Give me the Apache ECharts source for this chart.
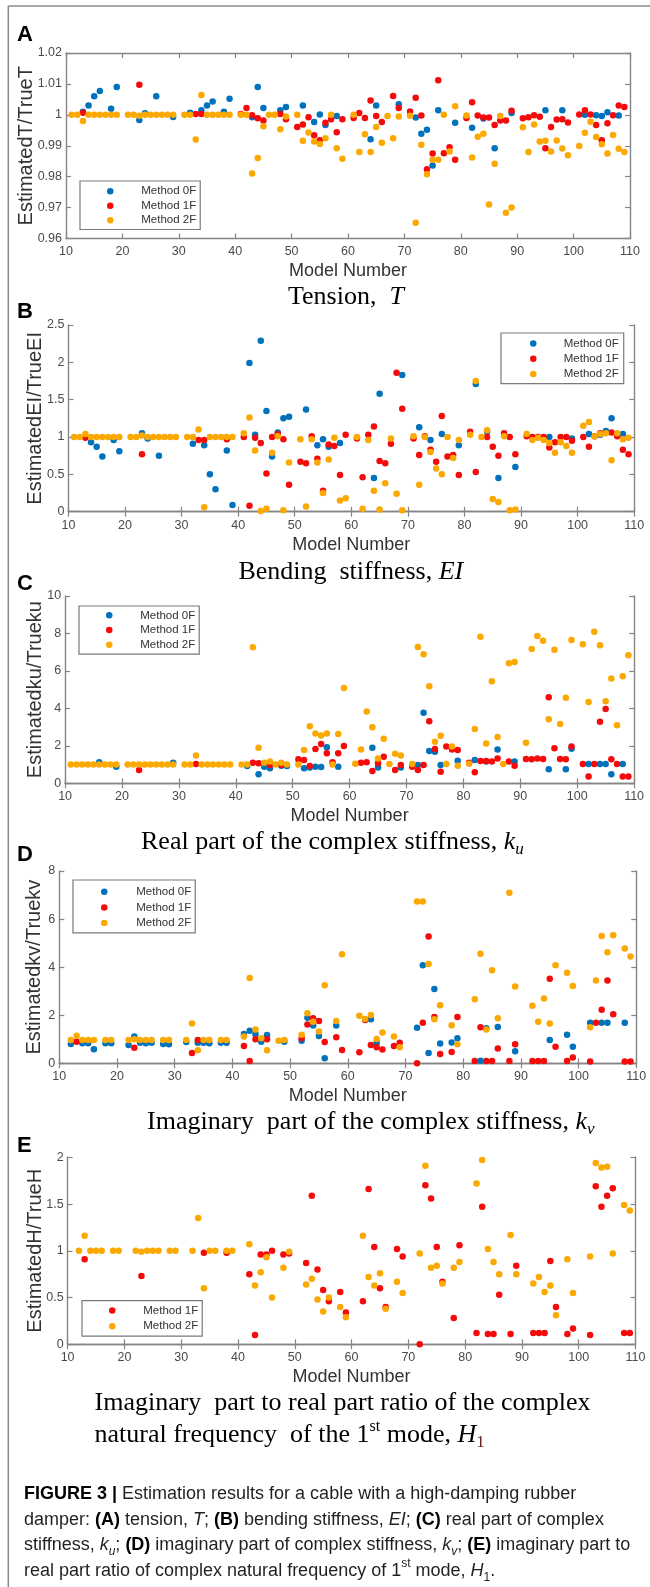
<!DOCTYPE html>
<html><head><meta charset="utf-8">
<script src="https://cdn.jsdelivr.net/npm/echarts@6/dist/echarts.min.js"></script>
<style>html,body{margin:0;padding:0;background:#fff}#c{width:650px;height:1587px}</style>
</head><body><div id="c"></div>
<script>
// ---------- DATA: [model number, estimated/true ratio] ----------
const modelAxis = {min: 10, max: 110, step: 10};
const methods = ['Method 0F', 'Method 1F', 'Method 2F'];

// Panel A: Tension
const A_0F = [[13,1.001],[14,1.003],[15,1.006],[16,1.0077],[18,1.002],[19,1.009],[23,0.9983],[24,1.0005],[26,1.006],[29,0.9993],[32,1.0007],[34,1.0015],[35,1.003],[36,1.0043],[38,1.001],[39,1.0052],[43,0.9992],[44,1.009],[45,1.0022],[48,1.0015],[49,1.0025],[52,1.003],[54,0.9977],[55,1.0001],[56,0.9967],[58,0.9996],[64,0.9921],[65,1.003],[69,1.0034],[72,0.9991],[73,0.9939],[74,0.9952],[75,0.9836],[76,1.0015],[79,0.9974],[82,0.9958],[84,0.9988],[86,0.9892],[89,1.0006],[95,1.0015],[98,1.0015],[102,1.0],[104,0.9999],[105,0.9996],[106,1.0008],[108,0.9998]];
const A_1F = [[13,1.0007],[23,1.0097],[33,1.0003],[34,1.0003],[41,1.0003],[42,1.0022],[43,0.9999],[44,0.9989],[45,0.9982],[48,1.0003],[49,0.9986],[51,0.9961],[52,0.9969],[53,0.9992],[54,0.9934],[55,0.9918],[56,0.9974],[57,0.9986],[58,0.9944],[59,0.9986],[61,0.999],[62,1.0006],[63,0.999],[64,1.0046],[65,0.9996],[66,0.9977],[68,1.0061],[69,1.0022],[71,1.0011],[72,1.0055],[73,0.9998],[74,0.9824],[75,0.9875],[76,1.0112],[77,0.9876],[78,0.9895],[79,0.9855],[81,0.999],[82,1.0041],[83,0.9998],[84,0.9991],[85,0.9991],[86,0.9967],[87,0.9982],[88,0.9982],[89,1.0013],[91,0.9989],[92,0.9992],[93,0.9999],[94,0.9994],[95,0.9892],[96,0.9961],[97,0.9985],[98,0.9986],[99,0.9975],[101,1.0001],[102,1.0015],[103,1.0001],[104,0.9967],[105,0.9918],[106,0.9973],[107,0.9999],[108,1.003],[109,1.0025]];
const A_2F = [[11,1],[12,1],[13,0.998],[14,1],[15,1],[16,1],[17,1],[18,1],[19,1],[21,1],[22,1],[23,0.9997],[24,1],[25,1],[26,1],[27,1],[28,1],[29,1],[31,1],[32,1],[33,0.992],[34,1.0064],[35,1],[36,1],[37,1],[38,1],[39,1],[41,1],[42,1],[43,0.981],[44,0.986],[45,0.9963],[46,1],[47,1],[48,0.9953],[49,0.9995],[51,1],[52,0.9916],[53,0.9943],[54,0.9914],[55,0.9906],[56,0.9924],[57,1],[58,0.9892],[59,0.9858],[61,1],[62,0.988],[63,0.9937],[64,0.988],[65,0.9961],[66,0.991],[67,0.9996],[68,0.9924],[69,0.9995],[71,0.9997],[72,0.9651],[73,0.9903],[74,0.9808],[75,0.9855],[76,0.9855],[77,1],[78,0.9881],[79,1.0028],[81,0.9998],[82,0.9862],[83,0.9929],[84,0.9939],[85,0.971],[86,0.9842],[87,0.9996],[88,0.9683],[89,0.97],[91,0.996],[92,0.988],[93,0.9969],[94,0.9914],[95,0.9916],[96,0.9881],[97,0.9917],[98,0.9891],[99,0.9869],[101,0.9899],[102,0.9942],[103,0.9978],[104,0.9928],[105,0.9905],[106,0.9875],[107,0.9935],[108,0.989],[109,0.988]];

// Panel B: Bending stiffness
const B_0F = [[14,0.93],[15,0.87],[16,0.74],[18,0.96],[19,0.81],[23,1.05],[24,0.98],[26,0.75],[32,0.91],[34,0.89],[35,0.50],[36,0.30],[38,0.82],[39,0.09],[42,1.99],[43,1.03],[44,2.29],[45,1.35],[46,0.74],[47,1.06],[48,1.25],[49,1.27],[52,1.37],[54,0.89],[55,0.97],[56,0.87],[58,0.92],[64,0.45],[65,1.58],[69,1.83],[72,1.13],[74,0.96],[76,1.04],[79,0.89],[82,1.71],[84,1.07],[86,0.45],[89,0.60],[95,1.00],[99,0.98],[102,1.04],[104,1.03],[105,1.08],[106,1.25],[108,1.04]];
const B_1F = [[13,0.99],[23,0.77],[33,0.96],[34,0.96],[38,0.97],[41,1.00],[42,0.08],[43,0.99],[44,0.92],[45,0.51],[46,1.00],[47,1.04],[48,0.97],[49,0.36],[51,0.67],[52,0.65],[53,1.01],[54,0.71],[55,0.28],[56,0.90],[57,0.88],[58,0.49],[59,1.03],[61,0.98],[62,0.46],[63,1.03],[64,1.14],[65,0.68],[66,0.65],[67,0.91],[68,1.86],[69,1.38],[71,0.98],[72,0.76],[73,1.01],[74,0.83],[75,0.67],[76,1.28],[77,0.74],[78,0.76],[79,0.49],[81,1.07],[82,0.53],[84,1.00],[85,0.87],[86,0.75],[87,1.05],[88,1.00],[89,0.77],[91,1.01],[92,1.00],[93,1.00],[94,1.00],[95,0.86],[96,0.93],[97,1.00],[98,1.00],[99,0.95],[101,1.00],[102,0.87],[103,1.01],[104,1.05],[106,1.06],[107,1.01],[108,0.83],[109,0.77]];
const B_2F = [[11,1],[12,1],[13,1.04],[14,1],[15,1],[16,1],[17,1],[18,1],[19,1],[21,1],[22,1],[23,1.02],[24,1],[25,1],[26,1],[27,1],[28,1],[29,1],[31,1],[32,1],[33,1.10],[34,0.06],[35,1],[36,1],[37,1],[38,1],[39,1],[41,1.05],[42,1.26],[43,0.82],[44,0.01],[45,0.04],[46,0.79],[47,1.01],[48,0.02],[49,0.66],[51,0.97],[52,0.07],[53,0.97],[54,0.66],[55,0.25],[56,0.70],[57,0.99],[58,0.15],[59,0.18],[61,1.00],[62,0.04],[63,0.96],[64,0.28],[65,0.03],[66,0.38],[67,0.98],[68,0.24],[69,0.02],[71,1.01],[72,0.36],[73,1.00],[74,0.80],[75,0.58],[76,0.50],[77,1.00],[78,0.72],[79,0.96],[81,1.03],[82,1.75],[83,1.00],[84,1.09],[85,0.17],[86,0.13],[87,1.01],[88,0.02],[89,0.03],[91,1.04],[92,0.96],[93,0.99],[94,0.96],[95,0.92],[96,0.79],[97,0.93],[98,0.88],[99,0.79],[101,1.15],[102,1.20],[103,1.01],[104,1.04],[105,1.05],[106,0.69],[107,1.05],[108,0.97],[109,0.99]];

// Panel C: real part of complex stiffness k_u
const C_0F = [[16,1.12],[19,0.89],[29,1.10],[42,0.93],[44,0.48],[45,0.89],[46,0.80],[48,0.94],[49,0.93],[52,0.80],[53,0.84],[54,0.89],[55,0.87],[56,1.92],[58,0.89],[64,1.90],[65,0.84],[69,0.84],[72,0.98],[73,3.77],[74,1.73],[75,1.69],[76,0.98],[79,1.21],[82,1.25],[84,1.16],[86,1.81],[89,1.16],[95,0.75],[98,0.75],[99,1.85],[102,1.03],[104,1.03],[105,1.03],[106,0.48],[108,1.03]];
const C_1F = [[23,0.71],[33,1.03],[43,1.10],[44,1.07],[46,0.98],[48,0.98],[51,1.28],[52,1.25],[53,0.93],[54,1.83],[55,2.10],[56,1.60],[57,1.12],[58,1.60],[59,1.99],[62,1.10],[63,1.12],[64,0.66],[65,1.07],[66,1.42],[68,0.71],[69,0.98],[71,0.89],[72,0.71],[73,0.98],[74,3.31],[75,1.83],[76,0.62],[77,1.96],[78,1.81],[79,1.78],[81,1.10],[82,0.59],[83,1.19],[84,1.19],[85,1.16],[86,1.33],[88,1.16],[89,0.94],[91,1.30],[92,1.28],[93,1.33],[94,1.30],[95,4.59],[96,1.87],[97,1.30],[98,1.28],[99,1.96],[101,1.03],[102,0.36],[103,1.03],[104,3.29],[105,3.97],[106,1.28],[107,1.03],[108,0.36],[109,0.36]];
const C_2F = [[11,1],[12,1],[13,1],[14,1],[15,1],[16,1],[17,1],[18,1],[19,1],[21,1],[22,1],[23,1],[24,1],[25,1],[26,1],[27,1],[28,1],[29,1],[31,1],[32,1],[33,1.49],[34,1],[35,1],[36,1],[37,1],[38,1],[39,1],[41,1],[42,1],[43,7.26],[44,1.90],[45,1.10],[46,1.17],[47,1],[48,1.10],[49,1],[51,1],[52,1.78],[53,3.04],[54,2.66],[55,2.55],[56,2.66],[57,1],[58,2.63],[59,5.09],[61,1.05],[62,1.80],[63,3.83],[64,2.99],[65,1.33],[66,2.38],[67,1.03],[68,1.58],[69,1.49],[71,1.03],[72,7.28],[73,6.89],[74,5.18],[75,2.22],[76,2.54],[77,1.03],[78,1.96],[79,0.94],[81,1.05],[82,2.90],[83,7.83],[84,2.13],[85,5.45],[86,2.47],[87,1.03],[88,6.41],[89,6.48],[91,2.17],[92,7.17],[93,7.86],[94,7.61],[95,3.42],[96,7.13],[97,3.17],[98,4.57],[99,7.65],[101,7.42],[102,4.34],[103,8.09],[104,7.37],[105,4.38],[106,5.60],[107,3.10],[108,5.71],[109,6.83]];

// Panel D: imaginary part of complex stiffness k_v
const D_0F = [[12,0.80],[14,0.83],[15,0.83],[16,0.58],[18,0.83],[19,0.83],[22,0.76],[23,1.11],[24,0.86],[25,0.83],[26,0.86],[28,0.80],[29,0.79],[32,0.89],[34,0.86],[35,0.86],[36,0.83],[38,0.86],[39,0.86],[42,1.22],[43,1.35],[44,1.21],[45,0.90],[46,1.18],[49,0.90],[52,0.94],[53,1.90],[54,1.57],[55,1.14],[56,0.21],[58,1.57],[64,1.83],[65,0.86],[72,1.48],[73,4.08],[74,0.43],[75,3.09],[76,0.82],[78,0.87],[79,1.04],[83,0.11],[84,1.46],[86,1.51],[89,0.50],[95,0.97],[98,1.19],[99,0.69],[102,1.69],[104,1.69],[105,1.69],[108,1.69]];
const D_1F = [[13,0.90],[23,0.65],[33,0.43],[34,0.97],[42,0.72],[43,0.10],[44,1.00],[46,1.00],[52,1.04],[53,1.61],[54,1.87],[55,1.76],[56,0.89],[58,1.08],[59,0.55],[62,0.46],[63,1.80],[64,0.76],[65,0.67],[66,0.57],[68,0.72],[69,0.86],[72,0.00],[73,1.69],[74,5.27],[75,1.93],[76,0.39],[78,0.47],[79,1.93],[82,0.10],[83,1.50],[84,0.10],[85,0.10],[86,0.62],[88,0.10],[89,0.79],[92,0.10],[93,0.10],[94,0.10],[95,3.52],[96,0.69],[98,0.10],[99,0.24],[102,0.08],[103,1.69],[104,2.23],[105,3.44],[106,2.04],[108,0.08],[109,0.08]];
const D_2F = [[12,0.97],[13,1.15],[14,0.97],[15,0.97],[16,0.97],[18,0.97],[19,0.97],[22,0.97],[23,1.00],[24,0.97],[25,0.97],[26,0.97],[28,0.97],[29,0.97],[32,0.97],[33,1.66],[34,0.54],[35,0.97],[36,0.97],[38,0.97],[39,0.97],[42,1.11],[43,3.55],[44,1.41],[45,1.04],[46,0.54],[48,0.94],[49,0.97],[52,1.19],[53,2.08],[54,1.73],[55,1.32],[56,3.25],[58,1.76],[59,4.54],[62,1.98],[63,1.84],[64,2.01],[65,1.01],[66,1.28],[68,1.11],[69,0.67],[72,6.73],[73,6.73],[74,4.13],[75,1.83],[76,2.41],[78,1.58],[79,0.79],[82,2.66],[83,4.56],[84,1.41],[85,3.87],[86,1.87],[88,7.10],[89,3.20],[92,2.39],[93,1.73],[94,2.70],[95,1.66],[96,4.08],[98,3.77],[99,3.22],[102,1.50],[103,3.44],[104,5.30],[105,4.62],[106,5.33],[108,4.78],[109,4.44]];

// Panel E: imaginary-to-real ratio of complex natural frequency, 1st mode H1
const E_1F = [[13,0.91],[23,0.73],[34,0.98],[38,0.98],[42,0.75],[43,0.10],[44,0.96],[45,0.96],[46,1.00],[48,0.96],[49,0.97],[52,0.87],[53,1.59],[54,0.80],[55,0.58],[56,0.46],[58,0.56],[59,0.34],[62,0.46],[63,1.66],[64,1.04],[65,0.60],[66,0.40],[68,1.02],[69,0.94],[72,0.00],[73,1.70],[74,1.56],[75,1.04],[76,0.67],[78,0.28],[79,1.06],[82,0.12],[83,1.47],[84,0.11],[85,0.11],[86,0.53],[88,0.11],[89,0.84],[92,0.12],[93,0.12],[94,0.12],[95,0.89],[96,0.40],[98,0.11],[99,0.17],[102,0.10],[103,1.69],[104,1.47],[105,1.59],[106,1.67],[108,0.12],[109,0.12]];
const E_2F = [[12,1.00],[13,1.16],[14,1.00],[15,1.00],[16,1.00],[18,1.00],[19,1.00],[22,1.00],[23,0.99],[24,1.00],[25,1.00],[26,1.00],[28,1.00],[29,1.00],[32,1.00],[33,1.35],[34,0.60],[35,1.00],[36,1.00],[38,1.00],[39,1.00],[42,1.07],[43,0.63],[44,0.77],[45,0.93],[46,0.50],[48,0.82],[49,0.99],[52,0.64],[53,0.70],[54,0.48],[55,0.35],[56,0.50],[58,0.40],[59,0.29],[62,1.16],[63,0.72],[64,0.63],[65,0.76],[66,0.38],[68,0.67],[69,0.55],[72,0.97],[73,1.91],[74,0.82],[75,0.84],[76,0.65],[78,0.82],[79,0.88],[82,1.72],[83,1.97],[84,1.02],[85,0.88],[86,0.75],[88,1.17],[89,0.75],[92,0.65],[93,0.72],[94,0.56],[95,0.63],[96,0.31],[98,0.91],[99,0.55],[102,0.94],[103,1.94],[104,1.89],[105,1.90],[106,0.97],[108,1.49],[109,1.43]];

// y-axis ranges (min, max, step) and names
const yRanges = [[0.96,1.02,0.01],[0,2.5,0.5],[0,10,2],[0,8,2],[0,2,0.5]];
const yNames = ['EstimatedT/TrueT','EstimatedEI/TrueEI','Estimatedku/Trueku','Estimatedkv/Truekv','EstimatedH/TrueH'];

// ---------- LAYOUT / STYLE ----------
const colors = {'Method 0F':'#0072bd','Method 1F':'#f40a0a','Method 2F':'#fba800'};
const panels = [
  {grid:{left:66,top:53,width:564,height:185.5}, nameGap:29.5, series:{'Method 0F':A_0F,'Method 1F':A_1F,'Method 2F':A_2F},
   legend:{left:80,top:181,padding:[3,4,2,27],itemWidth:52,lh:14.5}},
  {grid:{left:68.4,top:325,width:565.8,height:186.7}, nameGap:23, series:{'Method 0F':B_0F,'Method 1F':B_1F,'Method 2F':B_2F},
   legend:{left:501,top:333,padding:[3,5,2,29],itemWidth:51,lh:15.2}},
  {grid:{left:65.1,top:596,width:569,height:187.3}, nameGap:19.5, series:{'Method 0F':C_0F,'Method 1F':C_1F,'Method 2F':C_2F},
   legend:{left:79,top:606,padding:[2,4,2,27],itemWidth:52,lh:14.7}},
  {grid:{left:59.3,top:871,width:577,height:192.3}, nameGap:14.5, series:{'Method 0F':D_0F,'Method 1F':D_1F,'Method 2F':D_2F},
   legend:{left:73,top:880,padding:[4,4,2,28],itemWidth:54,lh:15.6}},
  {grid:{left:67.6,top:1157.3,width:567.9,height:187}, nameGap:22, series:{'Method 1F':E_1F,'Method 2F':E_2F},
   legend:{left:82,top:1300.7,padding:[2,4,2,27],itemWidth:52,lh:15.7}}
];

const axisGray = '#858585';
const fmt = v => String(parseFloat(v.toFixed(2)));
const grids = [], xAxes = [], yAxes = [], series = [], legends = [];
panels.forEach((p, i) => {
  grids.push(Object.assign({containLabel:false}, p.grid));
  const [ymin, ymax, ystep] = yRanges[i];
  const line = {show:true, lineStyle:{color:axisGray, width:1.4}};
  const tick = {show:true, inside:true, length:5, lineStyle:{color:axisGray, width:1.2}};
  xAxes.push({type:'value', gridIndex:i, min:modelAxis.min, max:modelAxis.max, interval:modelAxis.step,
    position:'bottom', axisLine:line, axisTick:tick, splitLine:{show:false},
    axisLabel:{margin:7, fontSize:12.5, fontFamily:'Liberation Sans', color:'#4a4a4a'},
    name:'Model Number', nameLocation:'middle', nameGap:24, nameMoveOverlap:false,
    nameTextStyle:{fontSize:18, fontFamily:'Liberation Sans', color:'#333'}});
  yAxes.push({type:'value', gridIndex:i, min:ymin, max:ymax, interval:ystep, position:'left',
    axisLine:line, axisTick:tick, splitLine:{show:false},
    axisLabel:{margin:4, fontSize:12.5, fontFamily:'Liberation Sans', color:'#4a4a4a', formatter:fmt},
    name:yNames[i], nameLocation:'middle', nameGap:p.nameGap, nameRotate:90, nameMoveOverlap:false,
    nameTextStyle:{fontSize:20, fontFamily:'Liberation Sans', color:'#333'}});
  Object.keys(p.series).forEach((m) => {
    series.push({type:'scatter', name:m, xAxisIndex:i, yAxisIndex:i, data:p.series[m],
      symbol:'circle', symbolSize:6.5, clip:false, itemStyle:{color:colors[m], opacity:1},
      emphasis:{disabled:true}, z: 2 + methods.indexOf(m)});
  });
  legends.push({show:true, orient:'vertical', left:p.legend.left, top:p.legend.top,
    padding:p.legend.padding, itemGap:0, itemWidth:p.legend.itemWidth, itemHeight:6.5, icon:'circle',
    data:Object.keys(p.series), selectedMode:false, borderColor:'#7a7a7a', borderWidth:1.2,
    backgroundColor:'#fff',
    textStyle:{fontSize:11.5, fontFamily:'Liberation Sans', color:'#333', lineHeight:p.legend.lh}});
});
// mirrored top / right axes (ticks only) to close the box
panels.forEach((p, i) => {
  const [ymin, ymax, ystep] = yRanges[i];
  const line = {show:true, lineStyle:{color:axisGray, width:1.4}};
  const tick = {show:true, inside:true, length:5, lineStyle:{color:axisGray, width:1.2}};
  xAxes.push({type:'value', gridIndex:i, min:modelAxis.min, max:modelAxis.max, interval:modelAxis.step,
    position:'top', axisLine:line, axisTick:tick, axisLabel:{show:false}, splitLine:{show:false}});
  yAxes.push({type:'value', gridIndex:i, min:ymin, max:ymax, interval:ystep, position:'right',
    axisLine:line, axisTick:tick, axisLabel:{show:false}, splitLine:{show:false}});
});

// ---------- TEXT (graphic) ----------
const serif = 'Liberation Serif', sans = 'Liberation Sans';
function tok(size, fam, extra){ return Object.assign({fontSize:size, fontFamily:fam, fontWeight:'normal', fontStyle:'normal', fill:'#000'}, extra||{}); }
const titleRich = {
  n: tok(26, serif, {lineHeight:32}),
  i: tok(26, serif, {fontStyle:'italic', lineHeight:32}),
  isub: tok(17, serif, {fontStyle:'italic', lineHeight:17, verticalAlign:'bottom'}),
  sub: tok(17, serif, {lineHeight:17, verticalAlign:'bottom', fill:'#6e1a1a'}),
  sup: tok(16, serif, {lineHeight:16, verticalAlign:'top'})
};
function title(x, y, text){
  return {type:'text', x:x, y:y, silent:true,
    style:{text:text, rich:titleRich, fontSize:26, fontFamily:serif, fill:'#000', lineHeight:32, align:'left', verticalAlign:'middle'}};
}
function letter(ch, y){
  return {type:'text', x:17, y:y, silent:true,
    style:{text:ch, fontSize:22, fontWeight:'bold', fontFamily:sans, fill:'#000', align:'left', verticalAlign:'middle'}};
}
const capColor = '#231f20';
const capRich = {
  n: tok(18, sans, {fill:capColor, lineHeight:25.5}),
  b: tok(18, sans, {fontWeight:'bold', fill:'#000', lineHeight:25.5}),
  i: tok(18, sans, {fontStyle:'italic', fill:capColor, lineHeight:25.5}),
  isub: tok(12, sans, {fontStyle:'italic', fill:capColor, lineHeight:12, verticalAlign:'bottom'}),
  sub: tok(12, sans, {fill:capColor, lineHeight:12, verticalAlign:'bottom'}),
  sup: tok(12, sans, {fill:capColor, lineHeight:12, verticalAlign:'top'})
};
const captionText = [
  '{b|FIGURE 3 |}{n| Estimation results for a cable with a high-damping rubber}',
  '{n|damper: }{b|(A)}{n| tension, }{i|T}{n|; }{b|(B)}{n| bending stiffness, }{i|EI}{n|; }{b|(C)}{n| real part of complex}',
  '{n|stiffness, }{i|k}{isub|u}{n|; }{b|(D)}{n| imaginary part of complex stiffness, }{i|k}{isub|v}{n|; }{b|(E)}{n| imaginary part to}',
  '{n|real part ratio of complex natural frequency of 1}{sup|st}{n| mode, }{i|H}{sub|1}{n|.}'
].join('\n');

const graphic = [
  {type:'line', silent:true, shape:{x1:8.3,y1:6,x2:650,y2:6}, style:{stroke:'#8a8a8a', lineWidth:1.5}},
  {type:'line', silent:true, shape:{x1:8.3,y1:6,x2:8.3,y2:1587}, style:{stroke:'#8a8a8a', lineWidth:1.5}},
  letter('A', 34.5), letter('B', 312), letter('C', 584), letter('D', 855), letter('E', 1145.5),
  title(288, 297, '{n|Tension,  }{i|T}'),
  title(238.4, 572, '{n|Bending  stiffness, }{i|EI}'),
  title(141, 842, '{n|Real part of the complex stiffness, }{i|k}{isub|u}'),
  title(147, 1122, '{n|Imaginary  part of the complex stiffness, }{i|k}{isub|v}'),
  title(94.5, 1419, '{n|Imaginary  part to real part ratio of the complex}\n{n|natural frequency  of the 1}{sup|st}{n| mode, }{i|H}{sub|1}'),
  {type:'text', x:24, y:1481.3, silent:true,
   style:{text:captionText, rich:capRich, fontSize:18, fontFamily:sans, fill:capColor, lineHeight:25.5, align:'left', verticalAlign:'top'}}
];

const chart = echarts.init(document.getElementById('c'), null, {renderer:'canvas'});
chart.setOption({
  animation:false, backgroundColor:'#fff',
  grid:grids, xAxis:xAxes, yAxis:yAxes, series:series, legend:legends, graphic:graphic
});
</script></body></html>
